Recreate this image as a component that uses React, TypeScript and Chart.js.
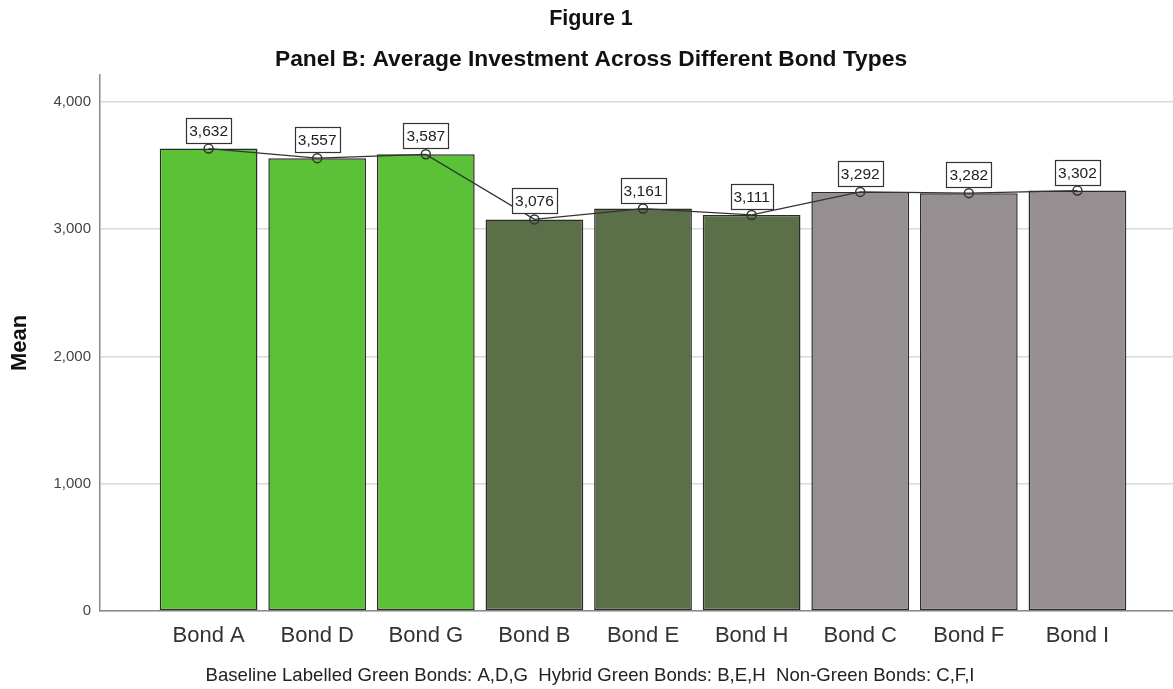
import React, { useEffect, useRef } from "react";
import { Chart, registerables } from "chart.js";

Chart.register(...registerables);

// Bond categories, grouped three by three
const categories = ["Bond A", "Bond D", "Bond G", "Bond B", "Bond E", "Bond H", "Bond C", "Bond F", "Bond I"];
const means = [3632, 3557, 3587, 3076, 3161, 3111, 3292, 3282, 3302];
const barColors = [
  "#5bc136", "#5bc136", "#5bc136",
  "#5b7049", "#5b7049", "#5b7049",
  "#958f91", "#958f91", "#958f91",
];
const yTickValues = [0, 1000, 2000, 3000, 4000];
const yMax = 4210;

const chartTitle = "Figure 1";
const chartSubtitle = "Panel B: Average Investment Across Different Bond Types";
const footnote = "Baseline Labelled Green Bonds: A,D,G  Hybrid Green Bonds: B,E,H  Non-Green Bonds: C,F,I";
const yAxisTitle = "Mean";

const FONT = "'Liberation Sans', Arial, Helvetica, sans-serif";
const fmt = (v: number) => v.toLocaleString("en-US");

const barPoints = means.map((v, i) => ({ x: i, y: v }));
const linePoints = means.map((v, i) => ({ x: i, y: v }));

// Headline, subtitle and footnote text
const textPlugin = {
  id: "headlines",
  beforeDraw(chart: any) {
    const { ctx, width } = chart;
    ctx.save();
    ctx.fillStyle = "#ffffff";
    ctx.fillRect(0, 0, width, chart.height);
    ctx.restore();
  },
  afterDraw(chart: any) {
    const { ctx } = chart;
    ctx.save();
    ctx.textAlign = "center";
    ctx.textBaseline = "middle";
    ctx.fillStyle = "#111111";
    ctx.font = `bold 21.5px ${FONT}`;
    ctx.fillText(chartTitle, 591, 19);
    ctx.font = `bold 22.8px ${FONT}`;
    ctx.fillText(chartSubtitle, 591, 60);
    ctx.font = `18.6px ${FONT}`;
    ctx.fillStyle = "#222222";
    ctx.fillText(footnote, 590, 676);
    ctx.restore();
  },
};

// Boxed value labels above each mean marker
const valueBoxPlugin = {
  id: "valueBoxes",
  afterDatasetsDraw(chart: any) {
    const { ctx } = chart;
    const meta = chart.getDatasetMeta(0);
    ctx.save();
    ctx.font = `15.5px ${FONT}`;
    ctx.textAlign = "center";
    ctx.textBaseline = "middle";
    meta.data.forEach((pt: any, i: number) => {
      const label = fmt(means[i]);
      const tw = ctx.measureText(label).width;
      const w = Math.round(tw + 6);
      const h = 25;
      const x = Math.round(pt.x - w / 2) + 0.5;
      const y = Math.round(pt.y - 6 - h) + 0.5;
      ctx.fillStyle = "#ffffff";
      ctx.fillRect(x, y, w, h);
      ctx.strokeStyle = "#333333";
      ctx.lineWidth = 1.2;
      ctx.strokeRect(x, y, w, h);
      ctx.fillStyle = "#222222";
      ctx.fillText(label, pt.x, y + h / 2 + 1);
    });
    ctx.restore();
  },
};

export default function App() {
  const canvasRef = useRef<HTMLCanvasElement | null>(null);

  useEffect(() => {
    if (!canvasRef.current) return;
    const chart = new Chart(canvasRef.current, {
      type: "bar",
      data: {
        datasets: [
          {
            type: "line",
            label: "Mean",
            data: linePoints,
            order: 0,
            borderColor: "#333333",
            borderWidth: 1.3,
            pointRadius: 4.5,
            pointBorderWidth: 1.5,
            pointBorderColor: "#333333",
            pointBackgroundColor: "rgba(0,0,0,0)",
            tension: 0,
            fill: false,
          } as any,
          {
            type: "bar",
            label: "Mean",
            data: barPoints,
            order: 1,
            backgroundColor: barColors,
            borderColor: "#2b2b2b",
            borderWidth: 1.5,
            borderSkipped: false,
            categoryPercentage: 1,
            barPercentage: 0.9,
          } as any,
        ],
      },
      options: {
        responsive: false,
        animation: false,
        layout: { autoPadding: false, padding: { top: 75, right: 0, bottom: 0, left: 0 } },
        plugins: {
          legend: { display: false },
          tooltip: { enabled: false },
          title: { display: false },
        },
        scales: {
          x: {
            type: "linear",
            min: -1,
            max: 8.88,
            offset: false,
            grid: { display: false, drawTicks: false },
            border: { display: true, color: "#8a8a8a", width: 1.5 },
            afterFit: (s: any) => {
              s.height = 78;
              s.paddingLeft = 0;
              s.paddingRight = 0;
            },
            ticks: {
              stepSize: 1,
              includeBounds: false,
              autoSkip: false,
              maxRotation: 0,
              padding: 12,
              color: "#333333",
              font: { family: FONT, size: 22 },
              callback: (v: any) => {
                const i = Number(v);
                return Number.isInteger(i) && i >= 0 && i < categories.length ? categories[i] : "";
              },
            },
          },
          y: {
            type: "linear",
            min: 0,
            max: yMax,
            grid: { color: "#d9d9d9", lineWidth: 1.5, drawTicks: false },
            border: { display: true, color: "#8a8a8a", width: 1.5 },
            afterFit: (s: any) => {
              s.width = 100;
            },
            afterBuildTicks: (s: any) => {
              s.ticks = yTickValues.map((value) => ({ value }));
            },
            title: {
              display: true,
              text: yAxisTitle,
              color: "#111111",
              font: { family: FONT, size: 22, weight: "bold" },
              padding: { top: 7, bottom: 0 },
            },
            ticks: {
              padding: 9,
              color: "#444444",
              font: { family: FONT, size: 15 },
              callback: (v: any) => fmt(Number(v)),
            },
          },
        },
      },
      plugins: [textPlugin, valueBoxPlugin],
    });
    return () => chart.destroy();
  }, []);

  return (
    <div style={{ position: "absolute", left: 0, top: 0, width: 1173, height: 689, background: "#fff" }}>
      <canvas ref={canvasRef} width={1173} height={689} style={{ display: "block" }} />
    </div>
  );
}
